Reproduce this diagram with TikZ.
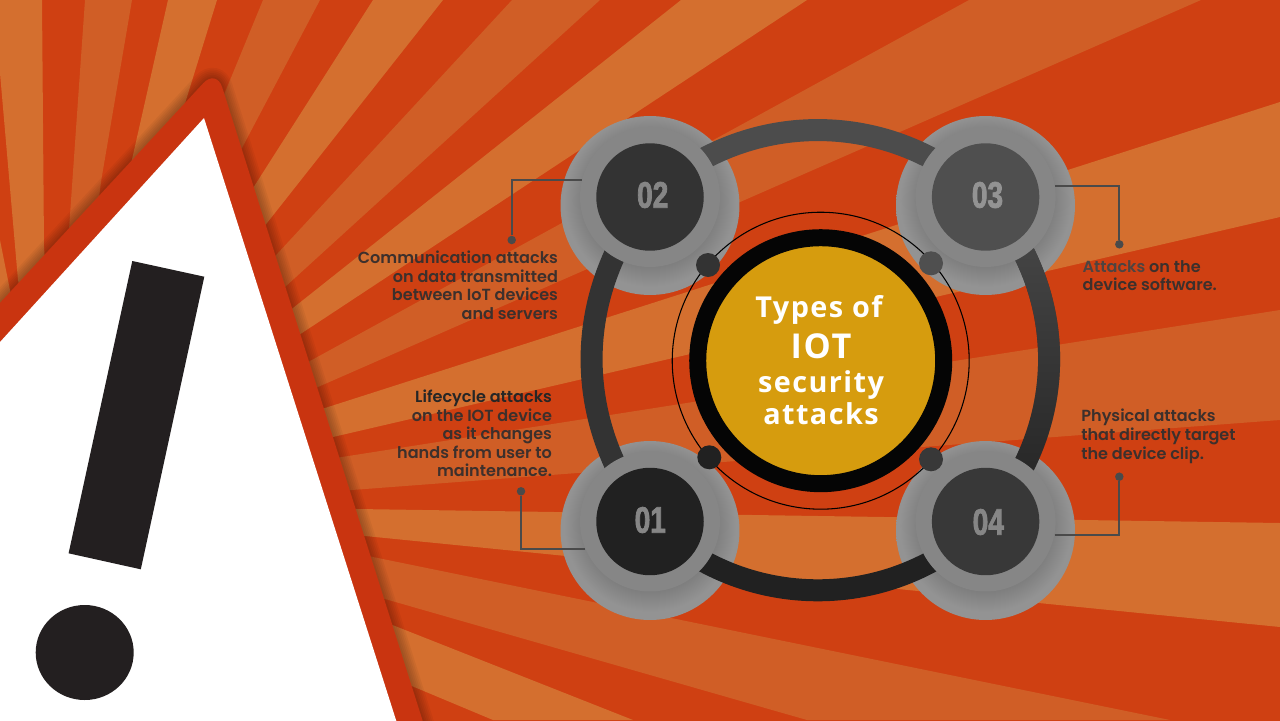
\documentclass[tikz,border=0pt]{standalone}
\usepackage{fontspec}
\usetikzlibrary{calc,fadings}
\newfontfamily\labelfont{Poppins SemiBold}
\newfontfamily\titlefont[LetterSpace=5]{Open Sans}
\newfontfamily\numfont[FakeStretch=0.76,FakeBold=2]{Liberation Sans Bold}
\definecolor{rayred}{HTML}{CF4012}
\definecolor{raylight}{HTML}{D46F2F}
\definecolor{raymid}{HTML}{D05E26}
\definecolor{signred}{HTML}{C93410}
\definecolor{signink}{HTML}{231F20}
\definecolor{discdark}{HTML}{787878}
\definecolor{disclight}{HTML}{939393}
\definecolor{ringgray}{HTML}{868686}
\definecolor{hubgold}{HTML}{D69C0E}
\definecolor{leadgray}{HTML}{4A4A4A}
\definecolor{labelink}{HTML}{3D302C}
\pgfdeclareradialshading{discfade}{\pgfpoint{0bp}{2.5bp}}{color(0bp)=(discdark); color(17bp)=(discdark); color(24bp)=(disclight); color(50bp)=(disclight)}
\pgfdeclarelayer{backdrop}
\pgfdeclarelayer{arcs}
\pgfsetlayers{backdrop,arcs,main}
\def\signpath{(-100,411) -- (216.4,69) -- (441.4,780) -- (-100,780) -- cycle}

\begin{document}
\begin{tikzpicture}[x=0.02cm,y=-0.02cm]
    \tikzstyle{outer disc}=[circle,shade,shading=discfade,minimum size=3.58cm,inner sep=0pt]
    \tikzstyle{ring}=[circle,fill=ringgray,minimum size=2.8cm,inner sep=0pt]
    \tikzstyle{core}=[circle,minimum size=2.15cm,inner sep=0pt]
    \tikzstyle{number}=[inner sep=0pt,text=gray!95,font=\numfont\fontsize{21}{21}\selectfont]
    \tikzstyle{knob}=[circle,minimum size=0.48cm,inner sep=0pt]
    \tikzstyle{tip}=[circle,fill=leadgray,minimum size=0.17cm,inner sep=0pt]
    \tikzstyle{link}=[line width=0.44cm]
    \tikzstyle{leader}=[draw=leadgray,line width=1.1pt]
    \tikzstyle{label}=[inner sep=0pt,text=labelink,font=\labelfont\fontsize{9.15}{10.6}\selectfont]
    \tikzstyle{title}=[inner sep=0pt,text=white,font=\titlefont\bfseries\fontsize{16.4}{16.4}\selectfont]
    \useasboundingbox (0,0) rectangle (1280,720);
    \begin{pgfonlayer}{backdrop}
    \fill[rayred] (-10,-10) rectangle (1290,730);
    % Draw the rays: near end, far end, far end, near end
    \fill[raylight] (18,280) -- (0,73) -- (0,0) -- (42,0) -- (44,247) -- (60,480) -- cycle;
    \fill[raylight] (12,300) -- (0,240) -- (0,320) -- cycle;
    \foreach \tone/\na/\fa/\fb/\nb in {
        raymid/{70,215}/{85,0}/{132,0}/{103,170},
        raylight/{133,155}/{168,0}/{217,0}/{187,97},
        raymid/{228,85}/{263,0}/{320,0}/{242,148},
        raylight/{255,185}/{373,0}/{443,0}/{267,223},
        raymid/{278,253}/{512,0}/{600,0}/{285,287},
        raylight/{293,308}/{681,0}/{807,0}/{302,333},
        raymid/{310,361}/{969,0}/{1201,0}/{318,387},
        raylight/{325,408}/{1280,102}/{1280,217}/{333,437},
        raymid/{342,457}/{1280,310}/{1280,420}/{352,490},
        raylight/{357,509}/{1280,523}/{1280,627}/{365,536},
        raymid/{373,557}/{1170,720}/{807,720}/{385,599},
        raylight/{395,626}/{633,720}/{493,720}/{407,684}}
        \fill[\tone] ($(\fa)!1.05!(\na)$) -- (\fa) -- (\fb) -- ($(\fb)!1.05!(\nb)$) -- (60,480) -- cycle;
    % Draw the warning sign
    \foreach \w in {2,4,...,12}
        \draw[black,opacity=0.045,line width=\w pt,rounded corners=11pt] \signpath;
    \fill[signred,rounded corners=11pt] \signpath;
    \fill[white] (-10,353) -- (204,118) -- (399.2,730) -- (-10,730) -- cycle;
    \fill[signink] (132.3,261) -- (204.3,276.7) -- (140.8,569.3) -- (68.6,553.3) -- cycle;
    \fill[signink] (84.7,652.5) ellipse (49 and 47.5);
    % Draw the outer discs
    \node[outer disc] (d01) at (650,530.5) {};
    \node[outer disc] (d02) at (650,205.5) {};
    \node[outer disc] (d03) at (985.5,205.5) {};
    \node[outer disc] (d04) at (985.5,530.5) {};
    \end{pgfonlayer}
    % Draw the four steps
    \node[ring] (r01) at (650,521.5) {};
    \node[ring] (r02) at (650,197) {};
    \node[ring] (r03) at (985.6,197) {};
    \node[ring] (r04) at (985.6,521.5) {};
    \node[core,fill=black!87] (c01) at (r01) {};
    \node[core,fill=black!80] (c02) at (r02) {};
    \node[core,fill=black!69] (c03) at (r03) {};
    \node[core,fill=black!78] (c04) at (r04) {};
    \node[number] (n01) at (650.3,520) {01};
    \node[number] (n02) at (652.7,195) {02};
    \node[number,text=gray!85] (n03) at (987.5,195) {03};
    \node[number] (n04) at (988.3,522) {04};
    % Annotate the links between the steps
    \begin{pgfonlayer}{arcs}
    \draw[link,draw=black!70] (r03.center) to[bend right=43] (r02.center);
    \draw[link,draw=black!80] (r02.center) to[bend right=38] (r01.center);
    \draw[link,draw=black!87] (r01.center) to[bend right=44.5] (r04.center);
    \draw[link,draw=black!87] (r04.center) to[bend right=42] (r03.center);
    \draw[link,draw=black!70,path fading=south] (r04.center) to[bend right=42] (r03.center);
    \end{pgfonlayer}
    % Draw the hub in the middle
    \node[circle,draw=black,line width=0.6pt,minimum size=5.94cm,inner sep=0pt] (halo) at (820.7,360.7) {};
    \node[circle,fill=hubgold,draw=black!98,line width=0.34cm,minimum size=4.92cm,inner sep=0pt] (hub) at (820.7,360.7) {};
    \node[title] (t1) at (819,310) {Types of};
    \node[title,font=\titlefont\bfseries\fontsize{19.5}{19.5}\selectfont] (t2) at (821,346.5) {IOT};
    \node[title] (t3) at (821,385) {security};
    \node[title] (t4) at (821,414) {attacks};
    \node[knob,fill=black!80] (k02) at (708,265) {};
    \node[knob,fill=black!69] (k03) at (931,263.3) {};
    \node[knob,fill=black!87] (k01) at (709.3,457.3) {};
    \node[knob,fill=black!78] (k04) at (931,459.3) {};
    % Draw the leaders and the labels
    \node[tip] (p01) at (521,491.3) {};
    \node[tip] (p02) at (511.7,240) {};
    \node[tip] (p03) at (1119.3,244.3) {};
    \node[tip] (p04) at (1119.3,476.7) {};
    \draw[leader] (r01.203.8) -| (p01);
    \draw[leader] (r02.166.8) -| (p02);
    \draw[leader] (r03.9) -| (p03);
    \draw[leader] (r04.-11.1) -| (p04);
    \node[label,anchor=north east,align=right] (l02) at (558.3,250.5) {Communication attacks\\on data transmitted\\between IoT devices\\and servers};
    \node[label,anchor=north east,align=right] (l01) at (552.3,389.5) {\textcolor{black!85}{Lifecycle attacks}\\on the IOT device\\as it changes\\hands from user to\\maintenance.};
    \node[label,anchor=north west,align=left] (l03) at (1082.3,260) {\textcolor{labelink!75!gray}{Attacks} on the\\device software.};
    \node[label,anchor=north west,align=left] (l04) at (1081,409) {Physical attacks\\that directly target\\the device clip.};
\end{tikzpicture}
\end{document}
